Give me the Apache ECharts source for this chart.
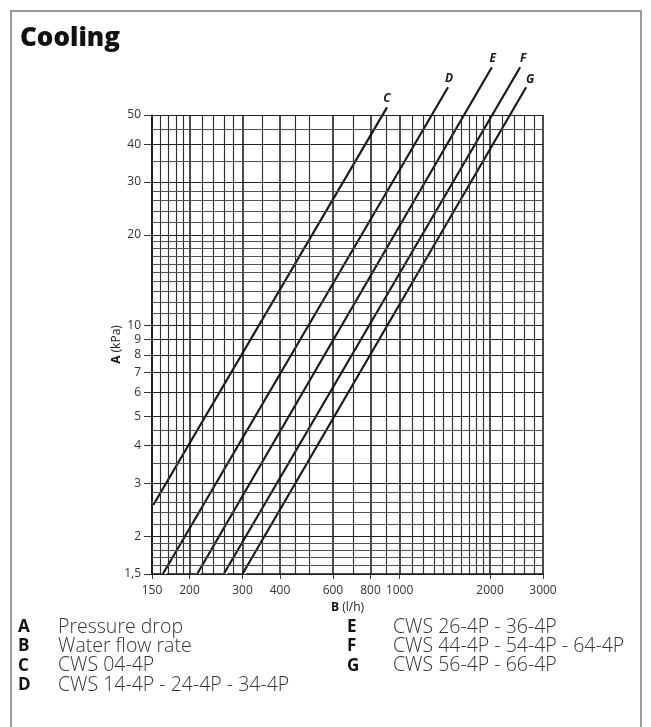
<!DOCTYPE html>
<html>
<head>
<meta charset="utf-8">
<script src="https://cdn.jsdelivr.net/npm/echarts@6/dist/echarts.min.js"></script>
<style>
html,body{margin:0;padding:0;background:#fff;}
#chart{width:651px;height:727px;}
</style>
</head>
<body>
<div id="chart"></div>
<script>
// ---- data ----
const curveNames = ['C', 'D', 'E', 'F', 'G'];
const flowStart = [151.5, 163, 212, 260, 300];     // l/h
const dropStart = [2.54, 1.5, 1.5, 1.5, 1.5];      // kPa
const flowEnd = [908, 1449, 2027, 2518, 2636];     // l/h
const dropEnd = [53.0, 61.8, 72.0, 72.0, 61.8];    // kPa

const xTickLabels = [150, 200, 300, 400, 600, 800, 1000, 2000, 3000];
const yTickLabels = [1.5, 2, 3, 4, 5, 6, 7, 8, 9, 10, 20, 30, 40, 50];

const gridX = [150, 160, 170, 180, 190, 200, 220, 240, 260, 280, 300, 350, 400, 450, 500,
  600, 700, 800, 900, 1000, 1100, 1200, 1300, 1400, 1500, 1600, 1700, 1800, 1900, 2000,
  2200, 2400, 2600, 2800, 3000];
const gridY = [1.5, 1.6, 1.7, 1.8, 1.9, 2, 2.2, 2.4, 2.6, 2.8, 3, 3.5, 4, 4.5, 5, 6, 7, 8, 9,
  10, 11, 12, 13, 14, 15, 16, 17, 18, 19, 20, 22, 24, 26, 28, 30, 35, 40, 45, 50];

const legendKeys = ['A', 'B', 'C', 'D', 'E', 'F', 'G'];
const legendTexts = ['Pressure drop', 'Water flow rate', 'CWS 04-4P', 'CWS 14-4P - 24-4P - 34-4P',
  'CWS 26-4P - 36-4P', 'CWS 44-4P - 54-4P - 64-4P', 'CWS 56-4P - 66-4P'];

// ---- build ----
const FONT = '"Open Sans", "Noto Sans", sans-serif';
const chart = echarts.init(document.getElementById('chart'), null, {renderer: 'canvas'});

const isMajorX = v => xTickLabels.indexOf(v) >= 0;
const isMajorY = v => yTickLabels.indexOf(v) >= 0;

const gridLines = [];
gridX.forEach(v => gridLines.push({xAxis: v, lineStyle: {color: isMajorX(v) ? '#111' : '#2e2e2e', width: isMajorX(v) ? 1.5 : 1.15, type: 'solid'}}));
gridY.forEach(v => gridLines.push({yAxis: v, lineStyle: {color: isMajorY(v) ? '#222' : '#505050', width: isMajorY(v) ? 1.2 : 1, type: 'solid'}}));

const series = [{
  type: 'line', data: [], silent: true, z: 1,
  markLine: {silent: true, symbol: ['none', 'none'], label: {show: false}, animation: false, data: gridLines}
}];

const labelOffsets = {C: [0, 0], D: [1, 0], E: [1, 0], F: [3, 0], G: [4, 1]};

curveNames.forEach((name, i) => {
  const pts = [[flowStart[i], dropStart[i]], [flowEnd[i], dropEnd[i]]];
  series.push({
    type: 'line', name: name + '_halo', data: pts, clip: false, silent: true, z: 3,
    symbol: 'none', lineStyle: {color: '#fff', width: 6, cap: 'butt'}
  });
});
curveNames.forEach((name, i) => {
  const pts = [[flowStart[i], dropStart[i]],
    {value: [flowEnd[i], dropEnd[i]], label: {show: true, position: 'top', distance: 3, offset: labelOffsets[name], formatter: name,
      fontFamily: FONT, fontWeight: 'bold', fontStyle: 'italic', fontSize: 12, color: '#1a1a1a'}}];
  series.push({
    type: 'line', name: name, data: pts, clip: false, silent: true, z: 4,
    symbol: 'circle', symbolSize: 0.01, showSymbol: true, itemStyle: {color: 'rgba(0,0,0,0)'},
    lineStyle: {color: '#1a1a1a', width: 2.2, cap: 'butt'}
  });
});

const graphics = [
  {type: 'rect', shape: {x: 11, y: 11, width: 630, height: 760}, style: {fill: 'none', stroke: '#9a9a9a', lineWidth: 2}, z: 0},
  {type: 'text', left: 20, top: 26, style: {text: 'Cooling', fontFamily: FONT, fontWeight: 800, fontSize: 26, fill: '#111'}}
];
legendKeys.forEach((k, i) => {
  const col = i < 4 ? 0 : 1;
  const row = i < 4 ? i : i - 4;
  const kx = col === 0 ? 18 : 347;
  const tx = col === 0 ? 58 : 393;
  const y = 627 + row * 19.4;
  graphics.push({type: 'text', x: kx, y: y, style: {text: k, fontFamily: FONT, fontWeight: 'bold', fontSize: 17, fill: '#111', verticalAlign: 'middle'}});
  graphics.push({type: 'text', x: tx, y: y, style: {text: legendTexts[i], fontFamily: FONT, fontWeight: 300, fontSize: 19.5, fill: '#333', verticalAlign: 'middle'}});
});

chart.setOption({
  animation: false,
  backgroundColor: '#fff',
  grid: {left: 152, right: 108, top: 115, bottom: 153, containLabel: false},
  xAxis: {
    type: 'log', logBase: 10, min: 150, max: 3000,
    name: '{b|B} (l/h)', nameLocation: 'middle', nameGap: 28, nameMoveOverlap: false,
    nameTextStyle: {fontFamily: FONT, fontSize: 12, color: '#222', verticalAlign: 'top', rich: {b: {fontFamily: FONT, fontWeight: 'bold', fontSize: 12, color: '#111'}}},
    axisLine: {show: true, lineStyle: {color: '#111', width: 1.5}},
    axisTick: {show: true, length: 5, inside: false, customValues: xTickLabels, lineStyle: {color: '#333', width: 1}},
    axisLabel: {show: true, customValues: xTickLabels, margin: 11, fontFamily: FONT, fontSize: 12, color: '#333',
      formatter: v => String(Math.round(v))},
    splitLine: {show: false}, minorTick: {show: false}, minorSplitLine: {show: false}
  },
  yAxis: {
    type: 'log', logBase: 10, min: 1.5, max: 50,
    name: '{b|A} (kPa)', nameLocation: 'middle', nameGap: 29, nameRotate: 90, nameMoveOverlap: false,
    nameTextStyle: {fontFamily: FONT, fontSize: 12, color: '#222', verticalAlign: 'bottom', rich: {b: {fontFamily: FONT, fontWeight: 'bold', fontSize: 12, color: '#111'}}},
    axisLine: {show: true, lineStyle: {color: '#111', width: 1.5}},
    axisTick: {show: true, length: 8, inside: false, customValues: yTickLabels, lineStyle: {color: '#333', width: 1}},
    axisLabel: {show: true, customValues: yTickLabels, margin: 11, fontFamily: FONT, fontSize: 12, color: '#333',
      formatter: v => (Math.abs(v - 1.5) < 1e-6 ? '1,5' : String(Math.round(v)))},
    splitLine: {show: false}, minorTick: {show: false}, minorSplitLine: {show: false}
  },
  graphic: graphics,
  series: series
});
</script>
</body>
</html>
